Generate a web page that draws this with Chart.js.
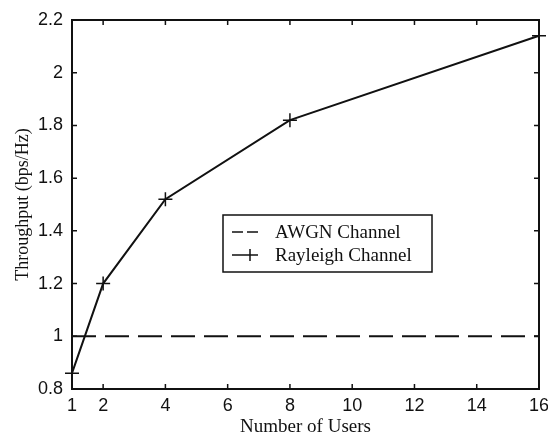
<!DOCTYPE html>
<html>
<head>
<meta charset="utf-8">
<script src="https://cdn.jsdelivr.net/npm/chart.js@4"></script>
<style>
  html, body { margin: 0; padding: 0; background: #fff; }
  #wrap { width: 548px; height: 438px; }
</style>
</head>
<body>
<div id="wrap"><canvas id="grafico" width="548" height="438"></canvas></div>
<script>
const users = [1, 2, 4, 8, 16];
const rayleigh = [0.86, 1.2, 1.52, 1.82, 2.14];
const awgnUsers = [1, 16];
const awgn = [1, 1];
const xTicks = [1, 2, 4, 6, 8, 10, 12, 14, 16];
const yTicks = [0.8, 1, 1.2, 1.4, 1.6, 1.8, 2, 2.2];
const seriesNames = ["AWGN Channel", "Rayleigh Channel"];

// box, inward ticks and legend like the matlab figure
const molduraPlugin = {
  id: "moldura",
  afterDatasetsDraw(chart) {
    const ctx = chart.ctx;
    const a = chart.chartArea;
    const sx = chart.scales.x, sy = chart.scales.y;
    ctx.save();
    ctx.strokeStyle = "#111";
    ctx.lineWidth = 2;
    ctx.strokeRect(a.left, a.top, a.right - a.left, a.bottom - a.top);
    ctx.lineWidth = 1.5;
    ctx.beginPath();
    xTicks.forEach(v => {
      const px = sx.getPixelForValue(v);
      ctx.moveTo(px, a.bottom); ctx.lineTo(px, a.bottom - 5);
      ctx.moveTo(px, a.top); ctx.lineTo(px, a.top + 5);
    });
    yTicks.forEach(v => {
      const py = sy.getPixelForValue(v);
      ctx.moveTo(a.left, py); ctx.lineTo(a.left + 5, py);
      ctx.moveTo(a.right, py); ctx.lineTo(a.right - 5, py);
    });
    ctx.stroke();

    // legenda
    const bx = 223, by = 215, bw = 209, bh = 57;
    ctx.fillStyle = "#fff";
    ctx.fillRect(bx, by, bw, bh);
    ctx.lineWidth = 1.5;
    ctx.strokeRect(bx, by, bw, bh);
    ctx.font = "19px 'Liberation Serif'";
    ctx.textBaseline = "middle";
    ctx.fillStyle = "#111";
    const rows = [by + 17, by + 40];
    ctx.lineWidth = 1.5;
    ctx.beginPath();
    ctx.setLineDash([11, 4]);
    ctx.moveTo(bx + 9, rows[0]); ctx.lineTo(bx + 35, rows[0]);
    ctx.stroke();
    ctx.setLineDash([]);
    ctx.beginPath();
    ctx.moveTo(bx + 9, rows[1]); ctx.lineTo(bx + 35, rows[1]);
    ctx.moveTo(bx + 27, rows[1] - 6); ctx.lineTo(bx + 27, rows[1] + 6);
    ctx.stroke();
    ctx.fillText(seriesNames[0], bx + 52, rows[0] + 1);
    ctx.fillText(seriesNames[1], bx + 52, rows[1] + 1);
    ctx.restore();
  }
};

new Chart(document.getElementById("grafico"), {
  type: "line",
  data: {
    datasets: [
      {
        label: seriesNames[0],
        data: awgnUsers.map((u, i) => ({ x: u, y: awgn[i] })),
        borderColor: "#111",
        borderWidth: 2,
        borderDash: [24, 9],
        pointRadius: 0,
        tension: 0
      },
      {
        label: seriesNames[1],
        data: users.map((u, i) => ({ x: u, y: rayleigh[i] })),
        borderColor: "#111",
        borderWidth: 2,
        pointStyle: "cross",
        pointRadius: 7,
        pointBorderWidth: 1.5,
        pointBorderColor: "#111",
        tension: 0,
        clip: false
      }
    ]
  },
  options: {
    responsive: false,
    animation: false,
    layout: { padding: { top: 20, right: 9, left: 0, bottom: 0 } },
    plugins: { legend: { display: false }, tooltip: { enabled: false } },
    scales: {
      x: {
        type: "linear",
        min: 1,
        max: 16,
        afterBuildTicks: s => { s.ticks = xTicks.map(v => ({ value: v })); },
        afterFit: s => { s.height = 49; s.paddingLeft = 0; s.paddingRight = 0; },
        grid: { display: false, drawTicks: false },
        border: { display: false },
        ticks: {
          color: "#111",
          padding: 6,
          maxRotation: 0,
          autoSkip: false,
          font: { family: "'Liberation Sans'", size: 18 }
        },
        title: {
          display: true,
          text: "Number of Users",
          color: "#111",
          padding: 0,
          font: { family: "'Liberation Serif'", size: 19 }
        }
      },
      y: {
        type: "linear",
        min: 0.8,
        max: 2.2,
        afterBuildTicks: s => { s.ticks = yTicks.map(v => ({ value: v })); },
        afterFit: s => { s.width = 72; },
        grid: { display: false, drawTicks: false },
        border: { display: false },
        ticks: {
          color: "#111",
          padding: 9,
          callback: v => String(Math.round(v * 10) / 10),
          font: { family: "'Liberation Sans'", size: 18 }
        },
        title: {
          display: true,
          text: "Throughput (bps/Hz)",
          color: "#111",
          padding: { top: 12, bottom: 0 },
          font: { family: "'Liberation Serif'", size: 18 }
        }
      }
    }
  },
  plugins: [molduraPlugin]
});
</script>
</body>
</html>
